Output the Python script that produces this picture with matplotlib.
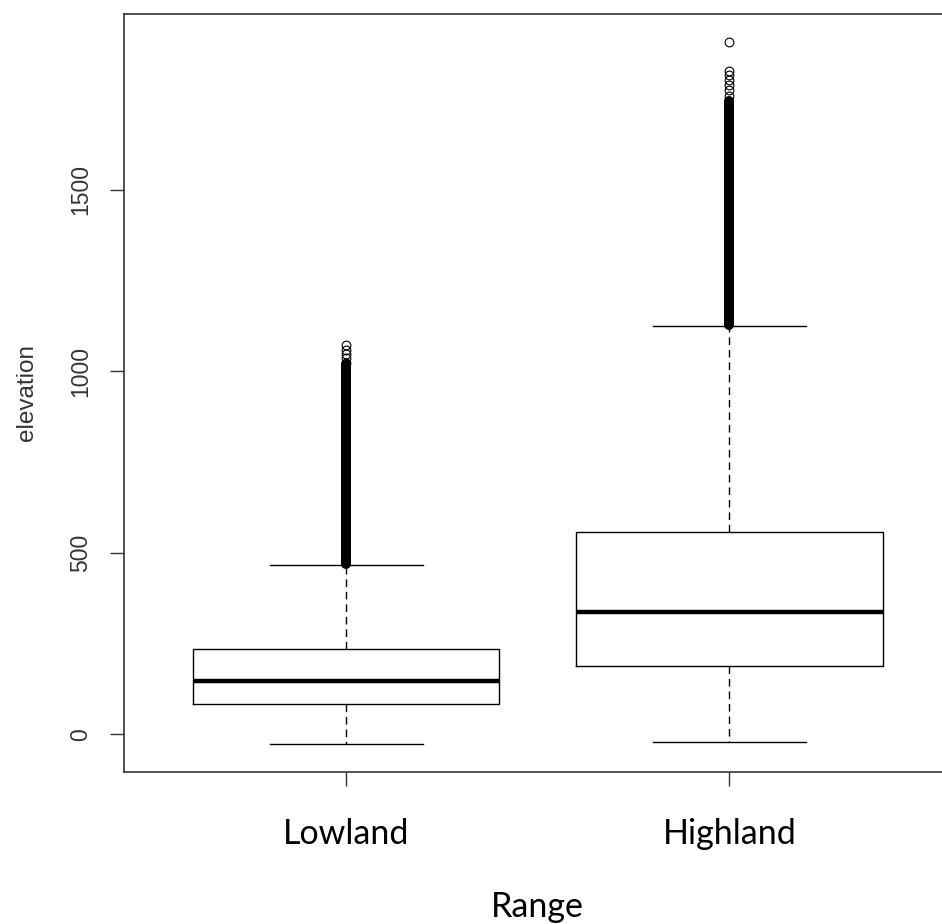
import numpy as np
import matplotlib.pyplot as plt

# values
groups = ['Lowland', 'Highland']
medians = [146, 338]
q1 = [85, 190]
q3 = [236, 559]
whisk_lo = [-26, -21]
whisk_hi = [467, 1125]
# outliers that are still seen as single circles
sparse_fliers = [[1024, 1036, 1048, 1060, 1073],
                 [1759, 1775, 1789, 1802, 1816, 1828, 1908]]
# span where the outliers overlap into one solid black column
dense_lo = [470, 1128]
dense_hi = [1020, 1745]

stats = []
for i in range(len(groups)):
    stats.append(dict(label=groups[i], med=medians[i], q1=q1[i], q3=q3[i],
                      whislo=whisk_lo[i], whishi=whisk_hi[i],
                      fliers=sparse_fliers[i]))

fig = plt.figure(figsize=(9.42, 9.24), dpi=100)
# right edge of the frame is cut off in the original
ax = fig.add_axes([0.1316, 0.1645, 0.8786, 0.8206])

pos = [1, 2]
ax.bxp(stats, positions=pos, widths=0.8, capwidths=0.4,
       boxprops=dict(color='black', linewidth=1.0),
       medianprops=dict(color='black', linewidth=3.2, solid_capstyle='butt'),
       whiskerprops=dict(color='black', linewidth=1.0, linestyle=(0, (5.5, 3.5))),
       capprops=dict(color='black', linewidth=1.0),
       flierprops=dict(marker='o', markerfacecolor='none', markeredgecolor='black',
                       markersize=6.3, markeredgewidth=0.8))

for i in range(len(groups)):
    ax.plot([pos[i], pos[i]], [dense_lo[i], dense_hi[i]], color='black',
            linewidth=7.2, solid_capstyle='round', zorder=3)

# R style axis limits: data range plus 4 percent
lo = min(whisk_lo)
hi = max(max(f) for f in sparse_fliers)
pad = 0.04 * (hi - lo)
ax.set_ylim(lo - pad, hi + pad)
ax.set_xlim(0.42, 2.58)

ax.set_yticks([0, 500, 1000, 1500])
ax.set_yticklabels(['0', '500', '1000', '1500'], rotation=90, va='center',
                   family='Liberation Sans', fontsize=16.5, color='#333333')
ax.tick_params(axis='y', length=10, width=1, pad=13, color='#333333')

ax.set_xticks(pos)
ax.set_xticklabels(groups, family='Lato', fontsize=24.5)
ax.tick_params(axis='x', length=10, width=1, pad=23, color='#333333')

for s in ax.spines.values():
    s.set_color('#333333')
    s.set_linewidth(1.2)

ax.set_xlabel('Range', family='Lato', fontsize=24.5, va='baseline')
ax.xaxis.set_label_coords(0.5, -0.1908)
ax.set_ylabel('elevation', family='Liberation Sans', fontsize=17.5,
              color='#333333', va='center')
ax.yaxis.set_label_coords(-0.1172, 0.5)

fig.savefig('out.png', dpi=100)
